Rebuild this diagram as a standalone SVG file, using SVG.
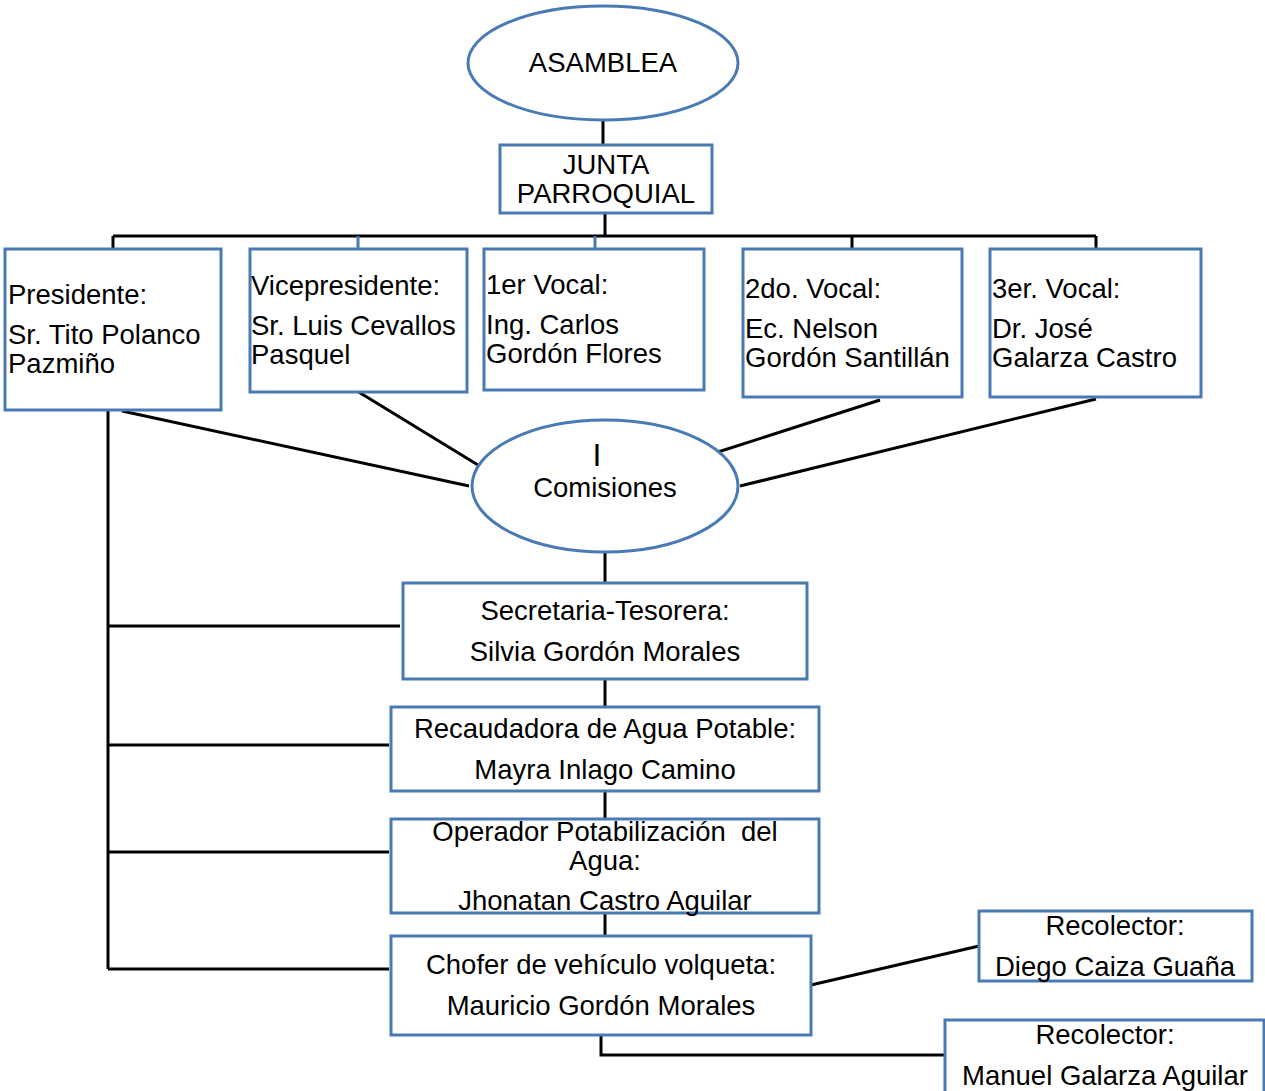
<svg xmlns="http://www.w3.org/2000/svg" width="1265" height="1091" viewBox="0 0 1265 1091">
<style>
.n{fill:#fff;stroke:#4a7ab4;stroke-width:3}
.c{fill:none;stroke:#000;stroke-width:3}
.cb{fill:none;stroke:#4a7ab4;stroke-width:3}
text{font-family:"Liberation Sans",Arial,sans-serif;font-size:27.5px;fill:#000}
.m{text-anchor:middle}
</style>
<rect width="1265" height="1091" fill="#fff"/>
<g id="connectors">
<path class="c" d="M603 121V145M605 213V236M113 236H1096M113 236V249M852 236V249M1096 236V249"/>
<path class="cb" d="M358 236V249M595 236V249"/>
<path class="c" d="M122 411L469 486M357 391L478 465M880 400L718 452M1096 399L740 486"/>
<path class="c" d="M605 553V583M605 679V707M605 791V819M605 913V936"/>
<path class="c" d="M108 411V969M108 626H400M108 745H389M108 852H389M108 969H389"/>
<path class="c" d="M811 985L979 946M601 1035V1055H945"/>
</g>
<g id="asamblea"><ellipse class="n" cx="603" cy="63" rx="135" ry="57"/><text class="m" x="603" y="72">ASAMBLEA</text></g>
<g id="junta"><rect class="n" x="500" y="145" width="212" height="68"/><text class="m" x="606" y="174">JUNTA</text><text class="m" x="606" y="203">PARROQUIAL</text></g>
<g id="presidente"><rect class="n" x="5" y="249" width="216" height="161"/><text x="8" y="304">Presidente:</text><text x="8" y="344">Sr. Tito Polanco</text><text x="8" y="373">Pazmiño</text></g>
<g id="vicepresidente"><rect class="n" x="250" y="249" width="217" height="143"/><text x="251" y="295">Vicepresidente:</text><text x="251" y="335">Sr. Luis Cevallos</text><text x="251" y="364">Pasquel</text></g>
<g id="vocal1"><rect class="n" x="484" y="249" width="220" height="141"/><text x="486" y="294">1er Vocal:</text><text x="486" y="334">Ing. Carlos</text><text x="486" y="363">Gordón Flores</text></g>
<g id="vocal2"><rect class="n" x="743" y="249" width="219" height="148"/><text x="745" y="298">2do. Vocal:</text><text x="745" y="338">Ec. Nelson</text><text x="745" y="367">Gordón Santillán</text></g>
<g id="vocal3"><rect class="n" x="990" y="249" width="211" height="148"/><text x="992" y="298">3er. Vocal:</text><text x="992" y="338">Dr. José</text><text x="992" y="367">Galarza Castro</text></g>
<g id="comisiones"><ellipse class="n" cx="605" cy="486" rx="133" ry="66"/><text class="m" x="597" y="466" style="font-size:32px">I</text><text class="m" x="605" y="497">Comisiones</text></g>
<g id="secretaria"><rect class="n" x="403" y="583" width="404" height="96"/><text class="m" x="605" y="620">Secretaria-Tesorera:</text><text class="m" x="605" y="661">Silvia Gordón Morales</text></g>
<g id="recaudadora"><rect class="n" x="391" y="707" width="428" height="84"/><text class="m" x="605" y="738">Recaudadora de Agua Potable:</text><text class="m" x="605" y="779">Mayra Inlago Camino</text></g>
<g id="operador"><rect class="n" x="391" y="819" width="428" height="94"/><text class="m" x="605" y="841">Operador Potabilización&#160; del</text><text class="m" x="605" y="870">Agua:</text><text class="m" x="605" y="910">Jhonatan Castro Aguilar</text></g>
<g id="chofer"><rect class="n" x="391" y="936" width="420" height="99"/><text class="m" x="601" y="974">Chofer de vehículo volqueta:</text><text class="m" x="601" y="1015">Mauricio Gordón Morales</text></g>
<g id="recolector1"><rect class="n" x="979" y="911" width="273" height="70"/><text class="m" x="1115" y="935">Recolector:</text><text class="m" x="1115" y="976">Diego Caiza Guaña</text></g>
<g id="recolector2"><rect class="n" x="945" y="1020" width="319" height="74"/><text class="m" x="1105" y="1044">Recolector:</text><text class="m" x="1105" y="1085">Manuel Galarza Aguilar</text></g>
</svg>
